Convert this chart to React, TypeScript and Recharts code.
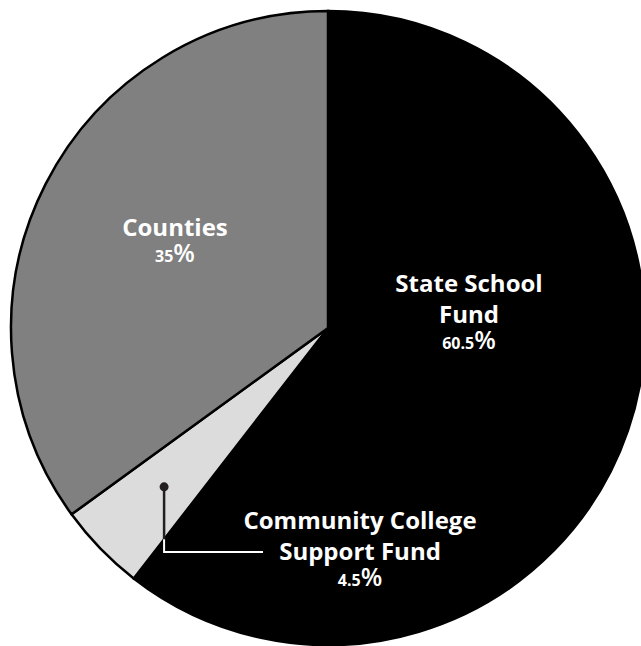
import { PieChart, Pie, Cell } from "recharts";

// slice order runs clockwise from 12 o'clock
const sliceNames = ["State School Fund", "Community College Support Fund", "Counties"];
const sliceLines = [["State School", "Fund"], ["Community College", "Support Fund"], ["Counties"]];
const sliceValues = [60.5, 4.5, 35];
const sliceColors = ["#000000", "#dcdcdc", "#808080"];

// label anchor offsets from the pie centre (px)
const labelOffsets = [
  { dx: 141, dy: -36 },
  { dx: 32, dy: 201 },
  { dx: -153, dy: -92 },
];

const data = sliceNames.map((name, i) => ({ name, value: sliceValues[i] }));

const RAD = Math.PI / 180;
const FONT = "'Open Sans', 'Noto Sans', sans-serif";

function renderLabel(props: any) {
  const { cx, cy, index, outerRadius, midAngle, startAngle } = props;
  const off = labelOffsets[index];
  const x = cx + off.dx;
  const y0 = cy + off.dy;
  const lines = sliceLines[index];
  const pctY = y0 + (lines.length - 1) * 31 + 26;

  let callout = null;
  if (index === 1) {
    // dot sits on the slice's mid angle, line drops then runs to the text
    const r = outerRadius * 0.72;
    const dotX = cx + Math.cos(-midAngle * RAD) * r;
    const dotY = cy + Math.sin(-midAngle * RAD) * r;
    const t = (dotX - cx) / Math.cos(-startAngle * RAD);
    const edgeY = cy + t * Math.sin(-startAngle * RAD);
    const elbowY = cy + 224;
    const endX = cx - 65;
    callout = (
      <g>
        <line x1={dotX} y1={dotY} x2={dotX} y2={edgeY} stroke="#231f20" strokeWidth={2.5} />
        <polyline
          points={`${dotX},${edgeY} ${dotX},${elbowY} ${endX},${elbowY}`}
          fill="none"
          stroke="#fff"
          strokeWidth={2}
        />
        <circle cx={dotX} cy={dotY} r={4.5} fill="#231f20" />
      </g>
    );
  }

  return (
    <g key={`lbl-${index}`}>
      {callout}
      <text x={x} y={y0} textAnchor="middle" fill="#fff" fontFamily={FONT} fontWeight={700} fontSize={24}>
        {lines.map((ln, i) => (
          <tspan key={i} x={x} dy={i === 0 ? 0 : 31}>
            {ln}
          </tspan>
        ))}
      </text>
      <text x={x} y={pctY} textAnchor="middle" fill="#fff" fontFamily={FONT} fontWeight={700}>
        <tspan fontSize={16}>{sliceValues[index]}</tspan>
        <tspan fontSize={25} fontWeight={600}>%</tspan>
      </text>
    </g>
  );
}

export default function App() {
  return (
    <div style={{ position: "absolute", left: 0, top: 0, width: 641, height: 646, background: "#fff" }}>
      <PieChart width={641} height={646} margin={{ top: 0, right: 0, bottom: 0, left: 0 }}>
        <Pie
          data={data}
          dataKey="value"
          nameKey="name"
          cx={328}
          cy={328}
          outerRadius={317}
          startAngle={90}
          endAngle={-270}
          stroke="#000"
          strokeWidth={2.5}
          label={renderLabel}
          labelLine={false}
          isAnimationActive={false}
        >
          {data.map((d, i) => (
            <Cell key={d.name} fill={sliceColors[i]} />
          ))}
        </Pie>
      </PieChart>
    </div>
  );
}
